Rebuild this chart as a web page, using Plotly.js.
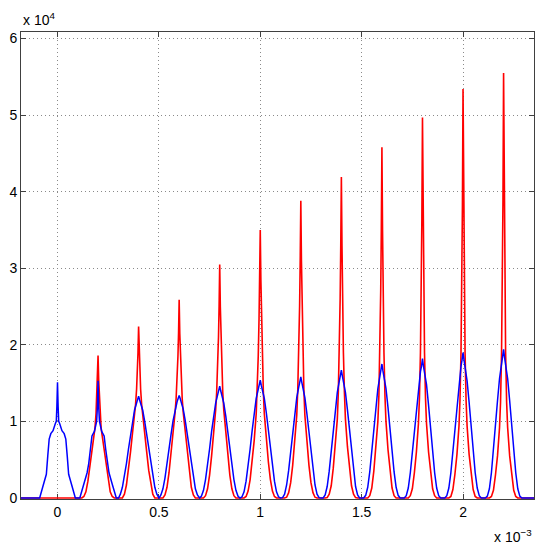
<!DOCTYPE html>
<html>
<head>
<meta charset="utf-8">
<script src="https://cdn.plot.ly/plotly-3.0.1.min.js"></script>
<style>
  html, body { margin: 0; padding: 0; background: #fff; }
  #chart { width: 543px; height: 550px; }
</style>
</head>
<body>
<div id="chart"></div>
<script>
// Units used in the arrays: x in 1e-3, y in 1e4 (as the axis multipliers show)
const X_SCALE = 1e-3;
const Y_SCALE = 1e4;
const xLimits = [-0.18, 2.35];

// Red series: peak centres and half-profiles (offset from centre -> value)
const redCenters = [0.2, 0.4, 0.6, 0.8, 1.0, 1.2, 1.4, 1.6, 1.8, 2.0, 2.2];
const redOffsets = [0, 0.003, 0.006, 0.01, 0.015, 0.02, 0.03, 0.04, 0.05, 0.06, 0.07, 0.08];
const redHalf = [
  [1.86, 1.55, 1.35, 1.10, 0.92, 0.82, 0.62, 0.42, 0.22, 0.08, 0.02, 0],
  [2.24, 1.90, 1.65, 1.42, 1.22, 1.08, 0.85, 0.60, 0.36, 0.17, 0.05, 0],
  [2.59, 2.15, 1.85, 1.55, 1.30, 1.12, 0.85, 0.58, 0.33, 0.14, 0.04, 0],
  [3.05, 2.50, 2.10, 1.70, 1.38, 1.15, 0.83, 0.55, 0.30, 0.12, 0.03, 0],
  [3.50, 2.85, 2.35, 1.85, 1.40, 1.10, 0.75, 0.47, 0.24, 0.09, 0.02, 0],
  [3.88, 3.10, 2.50, 1.90, 1.42, 1.08, 0.72, 0.43, 0.20, 0.07, 0.01, 0],
  [4.19, 3.30, 2.60, 1.90, 1.38, 1.03, 0.67, 0.39, 0.16, 0.05, 0.005, 0],
  [4.58, 3.50, 2.70, 1.90, 1.33, 1.00, 0.63, 0.35, 0.13, 0.03, 0, 0],
  [4.97, 3.65, 2.75, 1.90, 1.30, 0.97, 0.60, 0.33, 0.12, 0.03, 0, 0],
  [5.34, 3.80, 2.80, 1.90, 1.28, 0.94, 0.57, 0.31, 0.11, 0.02, 0, 0],
  [5.55, 3.90, 2.85, 1.90, 1.25, 0.92, 0.55, 0.30, 0.10, 0.02, 0, 0]
];

// Blue series: first two peaks have their own shape, the rest share an offset grid
const blueCenters = [0, 0.2, 0.4, 0.6, 0.8, 1.0, 1.2, 1.4, 1.6, 1.8, 2.0, 2.2];
const blue0Offsets = [0, 0.003, 0.006, 0.011, 0.022, 0.033, 0.041, 0.048, 0.055, 0.069, 0.088];
const blue0Half    = [1.51, 1.20, 1.00, 0.97, 0.88, 0.84, 0.77, 0.55, 0.31, 0.18, 0];
const blue1Offsets = [0, 0.003, 0.007, 0.018, 0.030, 0.038, 0.046, 0.054, 0.070, 0.090];
const blue1Half    = [1.53, 1.20, 1.00, 0.87, 0.81, 0.63, 0.45, 0.33, 0.18, 0];
const blueOffsets = [0, 0.005, 0.01, 0.02, 0.03, 0.04, 0.05, 0.06, 0.07, 0.08, 0.09, 0.099];
const blueHalf = [
  [1.33, 1.28, 1.24, 1.15, 1.00, 0.83, 0.64, 0.45, 0.28, 0.14, 0.05, 0],
  [1.34, 1.30, 1.26, 1.16, 1.01, 0.83, 0.63, 0.43, 0.26, 0.12, 0.04, 0],
  [1.46, 1.40, 1.35, 1.24, 1.07, 0.87, 0.64, 0.42, 0.24, 0.10, 0.025, 0],
  [1.54, 1.47, 1.42, 1.30, 1.11, 0.88, 0.64, 0.41, 0.22, 0.08, 0.015, 0],
  [1.58, 1.51, 1.45, 1.31, 1.10, 0.86, 0.60, 0.36, 0.17, 0.05, 0.005, 0],
  [1.67, 1.59, 1.53, 1.38, 1.15, 0.88, 0.60, 0.35, 0.15, 0.04, 0, 0],
  [1.75, 1.66, 1.59, 1.43, 1.18, 0.89, 0.60, 0.34, 0.14, 0.035, 0, 0],
  [1.82, 1.72, 1.65, 1.48, 1.21, 0.91, 0.60, 0.33, 0.13, 0.03, 0, 0],
  [1.90, 1.80, 1.72, 1.53, 1.25, 0.93, 0.61, 0.33, 0.13, 0.03, 0, 0],
  [1.94, 1.83, 1.75, 1.56, 1.27, 0.94, 0.61, 0.33, 0.12, 0.025, 0, 0]
];

const xTickVals = [0, 0.5, 1, 1.5, 2];
const xTickText = ['0', '0.5', '1', '1.5', '2'];
const yTickVals = [0, 1, 2, 3, 4, 5, 6];
const yTickText = ['0', '1', '2', '3', '4', '5', '6'];

// Build a line from mirrored half profiles
function buildSeries(centers, offsetsList, halves) {
  const xs = [xLimits[0] * X_SCALE], ys = [0];
  centers.forEach((c, i) => {
    const off = offsetsList[i], h = halves[i];
    for (let k = off.length - 1; k >= 1; k--) { xs.push((c - off[k]) * X_SCALE); ys.push(h[k] * Y_SCALE); }
    xs.push(c * X_SCALE); ys.push(h[0] * Y_SCALE);
    for (let k = 1; k < off.length; k++) { xs.push((c + off[k]) * X_SCALE); ys.push(h[k] * Y_SCALE); }
  });
  xs.push(xLimits[1] * X_SCALE); ys.push(0);
  return {xs, ys};
}

const red = buildSeries(redCenters, redCenters.map(() => redOffsets), redHalf);
const blue = buildSeries(
  blueCenters,
  [blue0Offsets, blue1Offsets].concat(blueHalf.map(() => blueOffsets)),
  [blue0Half, blue1Half].concat(blueHalf)
);

const traces = [
  {x: red.xs, y: red.ys, type: 'scatter', mode: 'lines',
   line: {color: '#ff0000', width: 1.6}, hoverinfo: 'skip'},
  {x: blue.xs, y: blue.ys, type: 'scatter', mode: 'lines',
   line: {color: '#0000ff', width: 1.5}, hoverinfo: 'skip'}
];

const axisCommon = {
  showline: true, linecolor: '#404040', linewidth: 1, mirror: 'ticks',
  ticks: 'inside', ticklen: 5, tickcolor: '#404040', tickwidth: 1,
  showgrid: true, gridcolor: '#8a8a8a', gridwidth: 1, griddash: '1px,3px',
  zeroline: false, layer: 'below traces',
  tickfont: {family: 'Liberation Sans, Arial, sans-serif', size: 14, color: '#000'}
};

const layout = {
  width: 543, height: 550,
  margin: {l: 21, r: 9, t: 32, b: 51, pad: 0},
  paper_bgcolor: '#fff', plot_bgcolor: '#fff',
  showlegend: false,
  xaxis: Object.assign({}, axisCommon, {
    range: [xLimits[0] * X_SCALE, xLimits[1] * X_SCALE],
    tickmode: 'array', tickvals: xTickVals.map(v => v * X_SCALE), ticktext: xTickText
  }),
  yaxis: Object.assign({}, axisCommon, {
    range: [-130, 60850],
    tickmode: 'array', tickvals: yTickVals.map(v => v * Y_SCALE), ticktext: yTickText
  }),
  annotations: [
    {xref: 'paper', yref: 'paper', x: 0, y: 1, xanchor: 'left', yanchor: 'bottom', yshift: 2,
     text: 'x 10<sup>4</sup>', showarrow: false,
     font: {family: 'Liberation Sans, Arial, sans-serif', size: 14, color: '#000'}},
    {xref: 'paper', yref: 'paper', x: 1, y: 0, xanchor: 'right', yanchor: 'top', yshift: -26,
     text: 'x 10<sup>\u22123</sup>', showarrow: false,
     font: {family: 'Liberation Sans, Arial, sans-serif', size: 14, color: '#000'}}
  ]
};

Plotly.newPlot('chart', traces, layout, {staticPlot: true, displayModeBar: false});
</script>
</body>
</html>
